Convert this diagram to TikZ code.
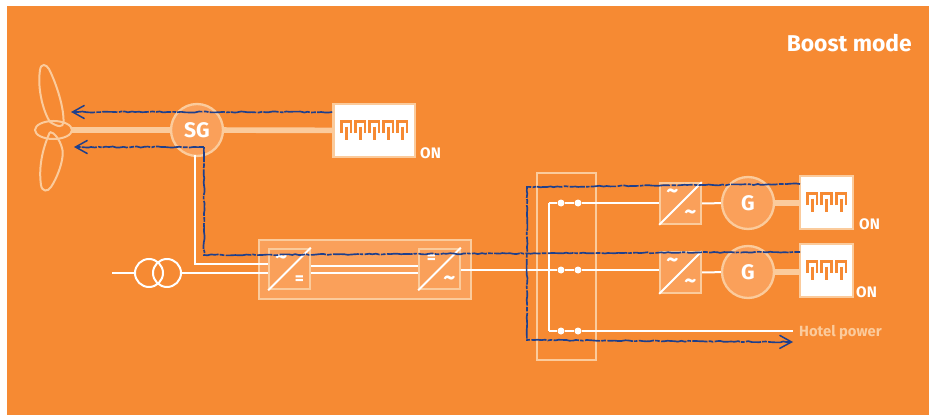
\documentclass[tikz,border=0pt]{standalone}
\usepackage{fontspec}
\setmainfont{Fira Sans}
\usetikzlibrary{arrows.meta,decorations.pathmorphing}

\definecolor{bgorange}{HTML}{F68A33}
\definecolor{softorange}{HTML}{FAA05A}
\definecolor{paleorange}{HTML}{FBCB9C}
\definecolor{flowblue}{HTML}{1E3F8C}

\tikzset{
  wire/.style={white, line width=0.6mm},
  shaft/.style={paleorange, line width=1.7mm},
  blade/.style={paleorange, line width=0.6mm},
  conv/.style={draw=paleorange, fill=softorange, line width=0.6mm, minimum size=12.2mm, inner sep=0pt},
  machine/.style={circle, draw=paleorange, fill=softorange, line width=0.7mm, minimum size=15.6mm, inner sep=0pt, text=white, font=\fontsize{18}{18}\selectfont\bfseries},
  heater/.style={draw=paleorange, fill=white, line width=0.7mm, inner sep=0pt},
  coil/.style={circle, draw=white, line width=0.6mm, minimum size=8.4mm, inner sep=0pt},
  dot/.style={circle, fill=white, minimum size=2.1mm, inner sep=0pt},
  onlabel/.style={anchor=west, inner sep=0pt, text=white, font=\fontsize{13}{13}\selectfont\bfseries},
  acsym/.style={text=white, inner sep=0pt, font=\fontsize{20}{20}\selectfont\bfseries},
  dcsym/.style={text=white, inner sep=0pt, font=\fontsize{15}{15}\selectfont\bfseries},
  flow/.style={flowblue, line width=0.5mm, decorate,
    decoration={random steps, segment length=3pt, amplitude=0.45pt, post length=6pt},
    dash pattern=on 13pt off 1pt on 4pt off 1.2pt on 22pt off 0.8pt on 3pt off 1.2pt},
  flowtip/.style={-{Straight Barb[length=3.6mm, width=4mm, line width=0.45mm]}}
}

% heating element: arches with a tooth in each
\newcommand{\heatcoil}[4]{%
  \foreach \i in {1,...,#3} {
    \draw[bgorange, line width=0.8mm, line join=miter]
      ({#1+(\i-1)*#4+1.3},{#2+13}) -- ({#1+(\i-1)*#4+1.3},{#2+1.3})
      -- ({#1+(\i-1)*#4+11},{#2+1.3}) -- ({#1+(\i-1)*#4+11},{#2+13});
    \draw[bgorange, line width=0.9mm] ({#1+(\i-1)*#4+6.2},{#2+6.5}) -- ({#1+(\i-1)*#4+6.2},{#2+19.5});
  }
}

\begin{document}
\begin{tikzpicture}[x=0.3mm, y=-0.3mm]
  \useasboundingbox (0,0) rectangle (929,415);
  \fill[bgorange] (7,6) rectangle (929,415);

  % Backing boxes
  \node[draw=paleorange, fill=softorange, line width=0.6mm, minimum width=63.6mm, minimum height=17.7mm, inner sep=0pt] (drive) at (365,269.5) {};
  \node[draw=paleorange, line width=0.6mm, minimum width=17.7mm, minimum height=56.1mm, inner sep=0pt] (panel) at (566.5,266.5) {};

  % Machines and converters
  \node[machine] (sg) at (197,130) {SG};
  \node[machine] (genA) at (748,203) {G};
  \node[machine] (genB) at (748,272) {G};
  \node[heater, minimum width=24.4mm, minimum height=15.8mm] (heatA) at (374,130.5) {};
  \node[heater, minimum width=15.8mm, minimum height=15.8mm] (heatB) at (826.5,202.5) {};
  \node[heater, minimum width=15.8mm, minimum height=15.8mm] (heatC) at (826.5,270.5) {};
  \node[conv] (convA) at (289.5,269) {};
  \node[conv] (convB) at (439.5,269) {};
  \node[conv] (convC) at (680.5,203.5) {};
  \node[conv] (convD) at (680.5,272.5) {};
  \node[coil] (trafoL) at (149,273) {};
  \node[coil] (trafoR) at (167,273) {};

  % Switch contacts
  \foreach \n/\y in {A/203,B/270,C/331} {
    \node[dot] (sw\n) at (561,\y) {};
    \node[dot] (tw\n) at (578,\y) {};
  }

  % Free ends
  \coordinate (hub) at (72,130);
  \coordinate (grid) at (112,273);
  \coordinate (sgTap) at (195,155);
  \coordinate (busTop) at (549,203);
  \coordinate (busLow) at (549,331);
  \coordinate (hotel) at (793,331);

  % Shafts
  \draw[shaft] (hub) -- (sg);
  \draw[shaft] (sg) -- (heatA);
  \draw[shaft] (genA) -- (heatB.west |- genA);
  \draw[shaft] (genB) -- (heatC.west |- genB);

  % Wiring
  \draw[wire] (grid) -- (trafoL);
  \draw[wire] (trafoR) -- (convA.west |- trafoR);
  \draw[wire] (sgTap) |- ([yshift=1.5mm]convA.west);
  \draw[wire] ([yshift=0.9mm]convA.east) -- ([yshift=0.9mm]convB.west);
  \draw[wire] ([yshift=-1.2mm]convA.east) -- ([yshift=-1.2mm]convB.west);
  \draw[wire] (convB.east |- swB) -- (swB);
  \draw[wire] (busTop) -- (busLow);
  \draw[wire] (busTop) -- (swA) -- (twA) -- (convC.west |- twA);
  \draw[wire] (busTop |- swB) -- (swB) -- (twB) -- (convD.west |- twB);
  \draw[wire] (busLow) -- (swC) -- (twC) -- (hotel);
  \draw[wire] (convC) -- (genA);
  \draw[wire] (convD) -- (genB);

  % Redraw converters over the wires
  \foreach \c/\a/\b/\sa/\sb in {convA/\textasciitilde/=/acsym/dcsym,convB/=/\textasciitilde/dcsym/acsym,convC/\textasciitilde/\textasciitilde/acsym/acsym,convD/\textasciitilde/\textasciitilde/acsym/acsym} {
    \node[conv] at (\c) {};
    \draw[wire] (\c.south west) -- (\c.north east);
    \node[\sa] at ([xshift=-2.4mm,yshift=2.9mm]\c.center) {\a};
    \node[\sb] at ([xshift=3mm,yshift=-3.4mm]\c.center) {\b};
  }

  % Heating elements
  \heatcoil{340}{120}{5}{14}
  \heatcoil{806}{192}{3}{14.5}
  \heatcoil{806}{260}{3}{14.5}

  % Turbine
  \draw[blade] (53.5,130) ellipse (18.5 and 9);
  \draw[blade] (50,122) .. controls (44,113) and (37,90) .. (40,70)
    .. controls (41,63) and (46,64) .. (49,69)
    .. controls (57,85) and (64,108) .. (63.5,122)
    .. controls (63,128) and (58,127) .. (50,122);
  \draw[blade] (50,132) .. controls (44,145) and (38,165) .. (41,185)
    .. controls (42,192) and (48,192) .. (51,187)
    .. controls (59,175) and (65,155) .. (62,148)
    .. controls (60,140) and (54,132) .. (50,132);

  % Blue power flow
  \coordinate (tipTop) at (71,112);
  \coordinate (tipLow) at (74,147);
  \coordinate (sgOut) at (204,147);
  \coordinate (sgBend) at (204,255);
  \coordinate (busBlueTop) at (527,187);
  \coordinate (busBlueLow) at (527,340);
  \coordinate (tipHotel) at (793,342);
  \coordinate (heatBlueB) at (800,184);
  \coordinate (heatBlueC) at (800,252);
  \draw[flow, flowtip] (heatA.west |- tipTop) -- (tipTop);
  \draw[flow, flowtip] (sgOut) -- (tipLow);
  \draw[flow] (sgOut) -- (sgBend) -- (heatBlueC);
  \draw[flow, flowtip] (heatBlueB) -- (busBlueTop) -- (busBlueLow) -- (tipHotel);

  % Labels
  \node[anchor=east, inner sep=0pt, text=white, font=\fontsize{19.5}{19.5}\selectfont\bfseries] (title) at (912,43) {Boost mode};
  \node[onlabel] (onA) at (420,153) {ON};
  \node[onlabel] (onB) at (859,224) {ON};
  \node[onlabel] (onC) at (856,292) {ON};
  \node[anchor=west, inner sep=0pt, text=paleorange, font=\fontsize{12.6}{12.6}\selectfont\bfseries] (hotelText) at (799,332.5) {Hotel power};
\end{tikzpicture}
\end{document}
